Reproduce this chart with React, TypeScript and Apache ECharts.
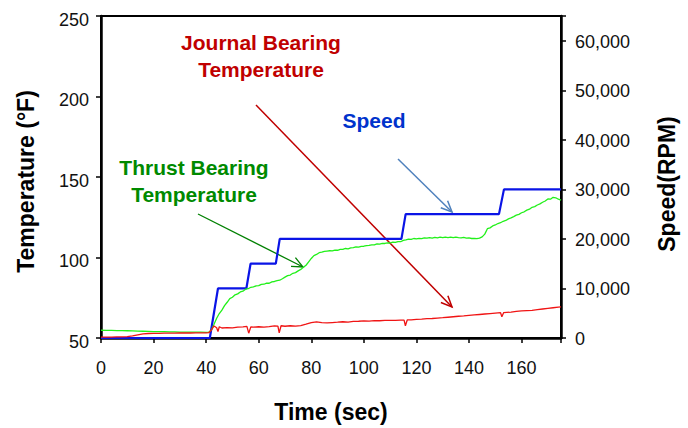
import React, { useEffect, useRef } from "react";
import * as echarts from "echarts";

// ---- Data ----
const speedTime = [0, 41.4, 44.5, 55.3, 56.9, 66.5, 68, 114.3, 115.9, 151.4, 153.3, 175];
const speedRpm = [0, 0, 10000, 10000, 15000, 15000, 20000, 20000, 25000, 25000, 30000, 30000];

const thrustTime = [
  0, 2, 4, 6, 8, 10, 12, 14, 16, 18, 20, 22, 24, 26, 28, 30, 32, 34, 36, 38, 40, 41,
  42, 43, 44, 45, 46, 47, 48, 49, 50, 51, 52, 53, 54, 55, 56, 57, 58, 59, 60, 61, 62, 63, 64, 65, 66, 67, 68, 69,
  70, 71, 72, 73, 74, 75, 76, 77, 78, 79, 80, 81, 82, 83, 84, 85, 86, 87, 88, 89, 90, 91, 92, 93, 94, 95,
  96, 97, 98, 99, 100, 101, 102, 103, 104, 105, 106, 107, 108, 109, 110, 111, 112, 113, 114, 115, 116,
  117, 118, 119, 120, 121, 122, 123, 124, 125, 126, 127, 128, 129, 130, 131, 132, 133, 134, 135, 136,
  137, 138, 139, 140, 141, 142, 143, 144, 145, 146, 147, 148, 149, 150, 151, 152, 153, 154, 155, 156,
  157, 158, 159, 160, 161, 162, 163, 164, 165, 166, 167, 168, 169, 170, 171, 172, 173, 174, 175,
];
const thrustTemp = [
  54.8, 54.7, 54.7, 54.6, 54.6, 54.5, 54.4, 54.3, 54.2, 54.1, 54.0, 53.9, 53.9, 53.8, 53.8, 53.7, 53.7, 53.6, 53.6, 53.6, 53.5, 53.6,
  55.0, 58.5, 62.3, 65.2, 67.3, 70.1, 72.2, 74.5, 75.3, 76.8, 77.4, 78.6, 79.1, 80.3, 80.6, 81.5, 81.7, 82.4, 82.5, 83.3, 83.4, 84.1, 84.0, 84.9, 85.1, 85.6, 85.9, 86.8,
  87.8, 88.7, 89.1, 90.2, 90.6, 91.7, 92.6, 93.9, 95.2, 97.3, 99.4, 101.2, 101.9, 103.0, 103.3, 103.8, 104.0, 104.2, 104.1, 104.6, 104.5, 105.0, 105.1, 105.6, 105.4, 106.0,
  106.1, 106.6, 106.4, 106.9, 107.0, 107.4, 107.5, 107.9, 107.8, 108.4, 108.3, 108.8, 108.7, 109.1, 109.0, 109.6, 109.4, 109.9, 109.8, 110.6, 110.9,
  111.4, 111.2, 111.8, 111.6, 111.9, 111.7, 112.2, 112.0, 112.4, 112.1, 112.5, 112.2, 112.6, 112.3, 112.7, 112.4, 112.6, 112.3, 112.7, 112.4,
  112.2, 112.5, 112.0, 112.2, 111.8, 111.9, 111.7, 112.0, 112.8, 114.5, 117.9, 118.4, 119.6, 120.2, 121.1, 121.6, 122.5, 123.0, 124.0, 124.6,
  125.4, 126.3, 126.8, 127.8, 128.4, 129.4, 130.0, 131.2, 131.6, 132.6, 133.3, 134.3, 135.1, 136.4, 136.2, 137.4, 137.1, 136.2, 135.6,
];

const journalTime = [
  0, 2, 4, 6, 8, 10, 12, 14, 16, 18, 20, 22, 24, 26, 28, 30, 32, 34, 36, 38, 40, 41,
  42, 43, 44, 44.5, 45, 46, 48, 50, 52, 54, 55.5, 56.2, 57, 58, 60, 62, 64, 66, 67.3, 67.8, 68.5,
  70, 72, 74, 76, 78, 80, 82, 84, 86, 88, 90, 92, 94, 96, 98, 100, 102, 104, 106, 108, 110, 112, 114,
  115.3, 115.8, 116.5, 118, 120, 122, 124, 126, 128, 130, 132, 134, 136, 138, 140, 142, 144, 146, 148,
  150, 152, 152.5, 153.2, 156, 158, 160, 162, 164, 166, 168, 170, 172, 174, 175,
];
const journalTemp = [
  50.6, 50.6, 50.6, 50.7, 50.7, 50.8, 51.3, 52.0, 52.6, 52.8, 52.9, 52.9, 53.0, 53.0, 53.0, 53.1, 53.1, 53.1, 53.2, 53.2, 53.2, 53.3,
  55.0, 57.5, 56.4, 54.0, 57.0, 56.2, 56.5, 56.3, 56.8, 56.9, 57.2, 53.0, 56.9, 56.7, 57.0, 56.8, 57.1, 57.5, 57.4, 53.2, 57.6,
  57.3, 57.6, 57.4, 57.7, 58.6, 59.6, 60.0, 59.6, 59.4, 59.6, 59.8, 60.1, 59.9, 60.3, 60.4, 60.6, 60.5, 60.8, 60.7, 60.9, 61.0, 61.0, 61.1,
  61.1, 57.6, 61.2, 61.3, 61.6, 61.7, 62.0, 62.1, 62.4, 62.6, 62.9, 63.2, 63.5, 63.7, 64.0, 64.3, 64.6, 64.9, 65.2,
  65.5, 65.7, 63.2, 65.8, 66.1, 66.5, 66.8, 67.0, 67.2, 67.6, 68.0, 68.4, 68.8, 69.2, 69.3,
];

const timeTickLabels = [0, 20, 40, 60, 80, 100, 120, 140, 160];
const tempTickLabels = [50, 100, 150, 200, 250];
const speedTickLabels = [0, 10000, 20000, 30000, 40000, 50000, 60000];

const FONT = '"Liberation Sans", Arial, sans-serif';

const zip = (xs: number[], ys: number[]) => xs.map((x, i) => [x, ys[i]]);

// annotation placement (pixels)
const annotations = [
  { lines: ["Journal Bearing", "Temperature"], x: 261, y: 42.5, dy: 26.5, color: "#c00000" },
  { lines: ["Speed"], x: 374, y: 120.5, dy: 0, color: "#0033cc" },
  { lines: ["Thrust Bearing", "Temperature"], x: 194, y: 167, dy: 27, color: "#008a00" },
];
const arrows = [
  { from: [256, 105], to: [452, 307], color: "#c00000", w: 1.5 },
  { from: [398, 159], to: [452, 212], color: "#4f81bd", w: 1.5 },
  { from: [198, 214], to: [303, 267], color: "#008000", w: 1.3 },
];

function buildGraphic() {
  const els: any[] = [];
  annotations.forEach((a) => {
    a.lines.forEach((t, i) => {
      els.push({
        type: "text",
        x: a.x,
        y: a.y + i * a.dy,
        style: {
          text: t,
          fill: a.color,
          font: `bold 21px ${FONT}`,
          align: "center",
          verticalAlign: "middle",
        },
      });
    });
  });
  arrows.forEach((ar) => {
    const [x1, y1] = ar.from;
    const [x2, y2] = ar.to;
    const ang = Math.atan2(y2 - y1, x2 - x1);
    const L = 12;
    const s = 0.42;
    els.push({
      type: "line",
      shape: { x1, y1, x2, y2 },
      style: { stroke: ar.color, lineWidth: ar.w },
    });
    els.push({
      type: "polyline",
      shape: {
        points: [
          [x2 - L * Math.cos(ang - s), y2 - L * Math.sin(ang - s)],
          [x2, y2],
          [x2 - L * Math.cos(ang + s), y2 - L * Math.sin(ang + s)],
        ],
      },
      style: { stroke: ar.color, lineWidth: ar.w, fill: "none" },
    });
  });
  return els;
}

export default function App() {
  const ref = useRef<HTMLDivElement>(null);
  useEffect(() => {
    document.body.style.margin = "0";
    if (!ref.current) return;
    const chart = echarts.init(ref.current, undefined, { renderer: "svg" });
    const axisLineStyle = { color: "#000", width: 2.5 };
    chart.setOption({
      animation: false,
      backgroundColor: "#fff",
      grid: {
        left: 101,
        right: 127,
        top: 16,
        bottom: 90,
        show: true,
        borderColor: "#000",
        borderWidth: 2,
      },
      xAxis: {
        type: "value",
        min: 0,
        max: 175,
        interval: 20,
        name: "Time (sec)",
        nameLocation: "middle",
        nameGap: 62,
        nameTextStyle: { fontSize: 23, fontWeight: "bold", color: "#000", fontFamily: FONT },
        axisLine: { lineStyle: axisLineStyle },
        axisTick: { length: 5, lineStyle: { color: "#000", width: 1.5 } },
        axisLabel: {
          fontSize: 18,
          color: "#111",
          fontFamily: FONT,
          margin: 21,
          formatter: (v: number) => (timeTickLabels.includes(v) ? String(v) : ""),
        },
        splitLine: { show: false },
      },
      yAxis: [
        {
          type: "value",
          min: 50,
          max: 250,
          interval: 50,
          position: "left",
          name: "Temperature (°F)",
          nameLocation: "middle",
          nameGap: 64,
          nameTextStyle: {
            fontSize: 23,
            fontWeight: "bold",
            color: "#000",
            fontFamily: FONT,
            padding: [0, 9, 0, 0],
          },
          axisLine: { show: true, lineStyle: axisLineStyle },
          axisTick: { show: true, length: 5, lineStyle: { color: "#000", width: 1.5 } },
          axisLabel: {
            fontSize: 18,
            color: "#111",
            fontFamily: FONT,
            margin: 12,
            verticalAlign: "top",
            lineHeight: 7,
            formatter: (v: number) => (tempTickLabels.includes(v) ? String(v) : ""),
          },
          splitLine: { show: false },
        },
        {
          type: "value",
          min: 0,
          max: 65000,
          interval: 10000,
          position: "right",
          name: "Speed(RPM)",
          nameLocation: "middle",
          nameGap: 94,
          nameTextStyle: {
            fontSize: 23,
            fontWeight: "bold",
            color: "#000",
            fontFamily: FONT,
            padding: [0, 14, 0, 0],
          },
          axisLine: { show: true, lineStyle: axisLineStyle },
          axisTick: { show: true, length: 5, lineStyle: { color: "#000", width: 1.5 } },
          axisLabel: {
            fontSize: 18,
            color: "#111",
            fontFamily: FONT,
            margin: 14,
            verticalAlign: "top",
            lineHeight: 2,
            formatter: (v: number) =>
              speedTickLabels.includes(v) ? v.toLocaleString("en-US") : "",
          },
          splitLine: { show: false },
        },
      ],
      series: [
        {
          name: "Speed",
          type: "line",
          yAxisIndex: 1,
          data: zip(speedTime, speedRpm),
          showSymbol: false,
          lineStyle: { color: "#0a14e6", width: 2.2 },
          z: 2,
        },
        {
          name: "Thrust Bearing Temperature",
          type: "line",
          yAxisIndex: 0,
          data: zip(thrustTime, thrustTemp),
          showSymbol: false,
          lineStyle: { color: "#22f01a", width: 1.3 },
          z: 3,
        },
        {
          name: "Journal Bearing Temperature",
          type: "line",
          yAxisIndex: 0,
          data: zip(journalTime, journalTemp),
          showSymbol: false,
          lineStyle: { color: "#f01414", width: 1.3 },
          z: 3,
        },
      ],
      graphic: buildGraphic(),
    });
    return () => chart.dispose();
  }, []);
  return <div ref={ref} style={{ width: 688, height: 428 }} />;
}
